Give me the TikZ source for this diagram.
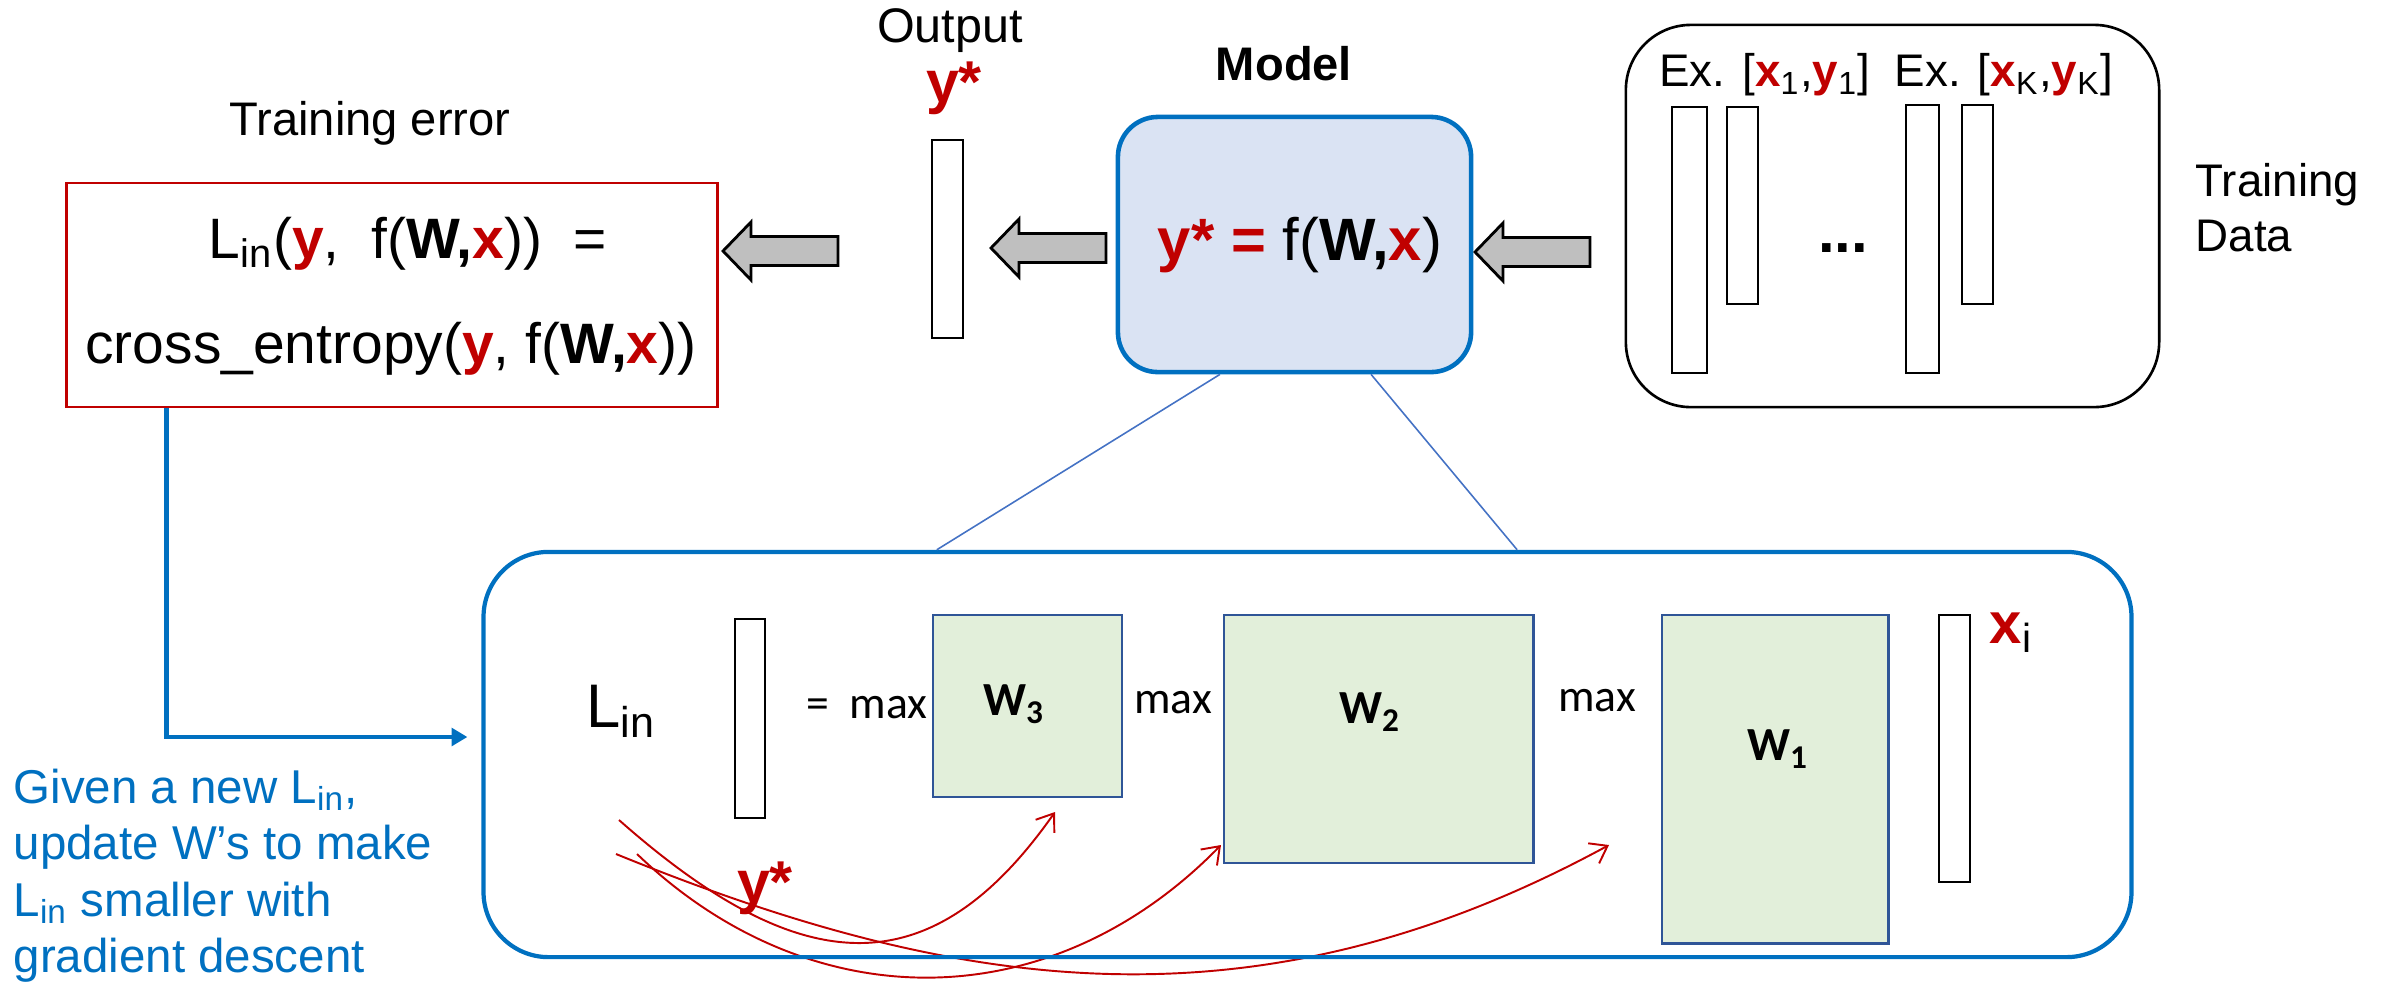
\documentclass[tikz,border=0pt]{standalone}
\usepackage{fontspec}
\setmainfont{Liberation Sans}
\newfontfamily\calfont{Carlito}
\usetikzlibrary{arrows.meta,calc}

\definecolor{errred}{HTML}{C00000}
\definecolor{netblue}{HTML}{0070C0}
\definecolor{modelfill}{HTML}{DAE3F3}
\definecolor{wfill}{HTML}{E2EFDA}
\definecolor{wline}{HTML}{2F5597}
\definecolor{zoomline}{HTML}{4472C4}
\definecolor{arrowgray}{HTML}{BFBFBF}

\newcommand{\rd}[1]{\textcolor{errred}{\textbf{#1}}}
\newcommand{\fs}[1]{\fontsize{#1}{#1}\selectfont}
\newcommand{\blockarrow}[1]{%
  \draw[fill=arrowgray,line width=0.8pt,line join=miter] #1 -- ++(28,-29) -- ++(0,14.5)
    -- ++(87,0) -- ++(0,29) -- ++(-87,0) -- ++(0,14.5) -- cycle;}

\begin{document}
\begin{tikzpicture}[x=0.01cm,y=-0.01cm,
    vec/.style={draw,line width=0.75pt,fill=white,inner sep=0pt,minimum width=0.31cm,minimum height=#1},
    wbox/.style={draw=wline,line width=0.8pt,fill=wfill,inner sep=0pt},
    wlabel/.style={font=\calfont\bfseries\fs{13.5}},
    maxlabel/.style={font=\calfont\fs{13}},
    grad/.style={draw=errred,line width=0.55pt,-{Straight Barb[length=4.5pt,width=6.5pt]}},
    fb/.style={draw=netblue,line width=1.2pt,-{Triangle[length=4.5pt,width=5pt]}},
    zoomln/.style={draw=zoomline,line width=0.45pt}]
    \useasboundingbox (0,0) rectangle (2382,984);

    \begin{scope}[every node/.style={inner sep=0pt}]
        \node (errtitle) at (370,123) {\fs{13.4}Training error};
        \node (outtitle) at (950,31) {\fs{13.8}Output};
        \node (outlab) at (954,88) {\fs{16.8}\rd{y*}};
        \node (modeltitle) at (1284,64) {\fs{13.4}\textbf{Model}};
        \node (ex1) at (1765,75) {\fs{13}Ex. [\rd{x}\textsubscript{1},\rd{y}\textsubscript{1}]};
        \node (exK) at (2004,75) {\fs{13}Ex. [\rd{x}\textsubscript{K},\rd{y}\textsubscript{K}]};
        \node[anchor=north west,align=left,font=\fontsize{13}{15.6}\selectfont] (datalab) at (2195,163) {Training\\Data};
    \end{scope}

    \node[draw=errred,line width=0.8pt,minimum width=6.5cm,minimum height=2.24cm] (err) at (392,295) {};
    \node[anchor=base,inner sep=0pt] (errl1) at (408,258)
        {\fs{16.2}L\textsubscript{in}(\rd{y}, ~f(\textbf{W,}\rd{x})) ~=};
    \node[anchor=base,inner sep=0pt] (errl2) at (391,363)
        {\fs{16.2}cross\_entropy(\rd{y}, f(\textbf{W,}\rd{x}))};

    \node[draw=netblue,line width=1.3pt,fill=modelfill,rounded corners=0.4cm,
        minimum width=3.53cm,minimum height=2.55cm] (model) at (1294.5,244.5) {};
    \node[inner sep=0pt] (modeltxt) at (1300,245) {\fs{17}\rd{y* =} f(\textbf{W,}\rd{x})};

    \node[draw,line width=0.75pt,rounded corners=0.65cm,minimum width=5.33cm,minimum height=3.82cm] (data) at (1892.5,216) {};
    \node[vec=1.98cm] (out) at (947.5,239) {};
    \node[vec=2.66cm,minimum width=0.35cm] (ex1x) at (1689.5,240) {};
    \node[vec=1.97cm] (ex1y) at (1742.5,205.5) {};
    \node[vec=2.68cm,minimum width=0.33cm] (exKx) at (1922.5,239) {};
    \node[vec=1.99cm] (exKy) at (1977.5,204.5) {};
    \node[inner sep=0pt] (dots) at (1843,248) {\fs{17}\textbf{...}};

    \blockarrow{(723,251)}
    \blockarrow{(991,248)}
    \blockarrow{(1475,252)}

    \node[wbox,minimum width=1.89cm,minimum height=1.82cm] (w3) at (1027.5,706) {};
    \node[wbox,minimum width=3.09cm,minimum height=2.48cm] (w2) at (1378.5,739) {};
    \node[wbox,minimum width=2.26cm,minimum height=3.28cm] (w1) at (1775,779) {};
    \node[wlabel] (w3lab) at (1014,704) {W\textsubscript{3}};
    \node[wlabel] (w2lab) at (1370,712) {W\textsubscript{2}};
    \node[wlabel] (w1lab) at (1778,749) {W\textsubscript{1}};
    \node[maxlabel] (max3) at (867,708) {=~~max};
    \node[maxlabel] (max2) at (1173,703) {max};
    \node[maxlabel] (max1) at (1597,701) {max};
    \node[vec=1.99cm,minimum width=0.30cm] (yvec) at (750,718.5) {};
    \node[vec=2.67cm] (xvec) at (1954.5,748.5) {};
    \node[anchor=base west,inner sep=0pt] (lin) at (586,727) {\fs{17.5}L\textsubscript{in}};
    \node[anchor=base west,inner sep=0pt] (xi) at (1989,643) {\fs{16.5}\rd{x}\textsubscript{i}};
    \node[inner sep=0pt] (ylab) at (765,888) {\fs{16.8}\rd{y*}};

    \coordinate (s1) at (619,820);
    \coordinate (s2) at (637,854);
    \coordinate (s3) at (616,854);
    \coordinate (g3) at (1055,812);
    \coordinate (g2) at (1221,845);
    \coordinate (g1) at (1609,845);
    \draw[grad] (s1) .. controls (800,980) and (930,990) .. (g3);
    \draw[grad] (s2) .. controls (810,1020) and (1050,1020) .. (g2);
    \draw[grad] (s3) .. controls (950,990) and (1250,1040) .. (g1);

    \node[draw=netblue,line width=1.2pt,rounded corners=0.65cm,minimum width=16.47cm,minimum height=4.05cm] (net) at (1307.5,754.5) {};

    \draw[zoomln] ([xshift=-0.745cm]model.south) -- ([xshift=-3.705cm]net.north);
    \draw[zoomln] ([xshift=0.765cm]model.south) -- ([xshift=2.095cm]net.north);
    \draw[fb] ([xshift=1.01cm]err.south west) |- ([xshift=-0.14cm,yshift=0.175cm]net.west);

    \node[anchor=north west,align=left,inner sep=0pt,text=netblue,font=\fontsize{13.5}{16.1}\selectfont] (hint) at (13,768)
        {Given a new L\textsubscript{in},\\update W’s to make\\L\textsubscript{in} smaller with\\gradient descent};
\end{tikzpicture}
\end{document}
